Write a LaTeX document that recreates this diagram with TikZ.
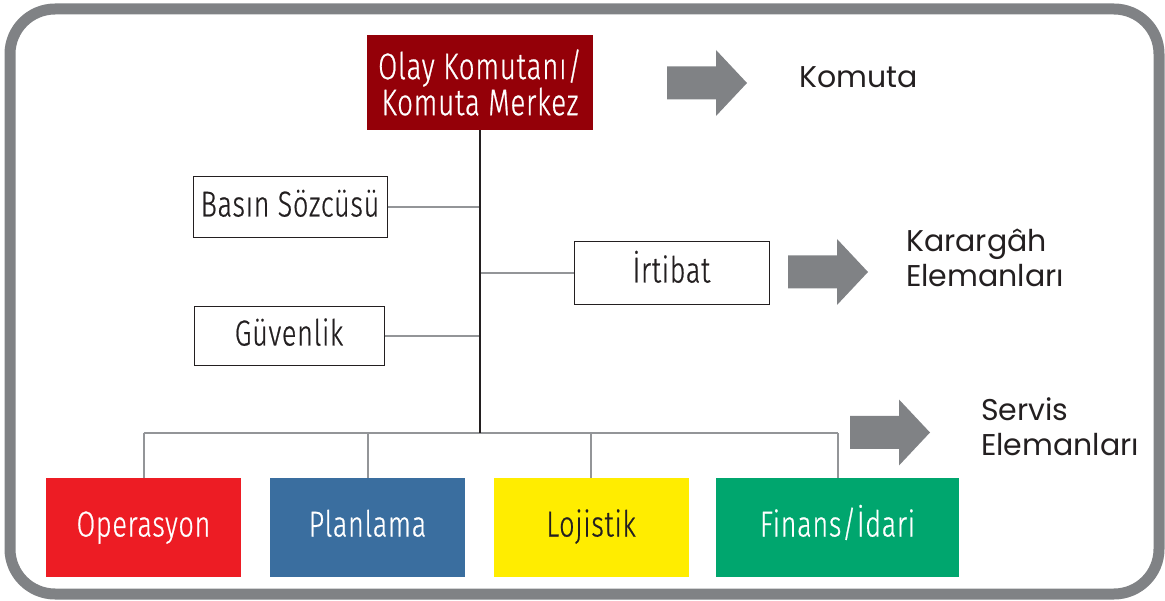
\documentclass[tikz,border=0pt]{standalone}
\usepackage{fontspec}
\setmainfont{Fira Sans Light}[FakeStretch=0.75, LetterSpace=2, FakeBold=0.6]
\newfontfamily\labelfont{Poppins}

\definecolor{olayred}{HTML}{940008}
\definecolor{operred}{HTML}{ED1C24}
\definecolor{planblue}{HTML}{3A6E9F}
\definecolor{lojyellow}{HTML}{FFED00}
\definecolor{finansgreen}{HTML}{00A66E}
\definecolor{framegray}{HTML}{808285}
\definecolor{linegray}{HTML}{939598}
\definecolor{textdark}{HTML}{231F20}

\tikzset{
    unitbox/.style={inner sep=0pt, minimum height=#1, text height=26pt, text depth=8pt,
        font=\fontsize{36}{36}\selectfont, text=textdark},
    whitebox/.style={unitbox=60pt, draw=textdark, line width=1pt, fill=white},
    colorbox/.style={unitbox=99pt, fill=#1, minimum width=195pt, text=white},
    sidelabel/.style={anchor=west, align=left, inner sep=0pt, text=textdark,
        font=\labelfont\fontsize{30}{35}\selectfont},
    trunk/.style={draw=textdark, line width=2pt},
    branch/.style={draw=linegray, line width=2pt},
}

% left end (shaft centre) of a block arrow
\newcommand{\grayarrow}[1]{%
    \fill[framegray] (#1) ++(0,-16.5) -- ++(49,0) -- ++(0,-16.5) -- ++(31,33)
        -- ++(-31,33) -- ++(0,-16.5) -- ++(-49,0) -- cycle;}

\begin{document}
\begin{tikzpicture}[x=1pt, y=-1pt]
    \useasboundingbox (0,0) rectangle (1165,601);
    \draw[framegray, line width=11pt, rounded corners=45pt] (10,9) rectangle (1159,594);

    \node[fill=olayred, minimum width=226pt, minimum height=95pt, inner sep=0pt, text=white,
        align=center, font=\fontsize{37}{35}\selectfont] (olay) at (480,82.5) {Olay Komutanı/\\Komuta Merkez};

    \node[whitebox, minimum width=194pt, minimum height=61pt] (basin) at (290,207.5) {Basın Sözcüsü};
    \node[whitebox, minimum width=190pt, minimum height=59pt] (guvenlik) at (289,336.5) {Güvenlik};
    \node[whitebox, minimum width=195pt, minimum height=63pt] (irtibat) at (671.5,273.5) {İrtibat};

    \node[colorbox=operred] (oper) at (143.5,527.5) {Operasyon};
    \node[colorbox=planblue] (plan) at (367.5,527.5) {Planlama};
    \node[colorbox=lojyellow, text=textdark] (loj) at (591,527.5) {Lojistik};
    \node[colorbox=finansgreen, minimum width=243pt] (finans) at (837.5,527.5) {Finans/İdari};

    \coordinate (bus) at (480,433);

    \draw[branch] (basin.east) -- (basin.east -| bus);
    \draw[branch] (guvenlik.east) -- (guvenlik.east -| bus);
    \draw[branch] (irtibat.west -| bus) -- (irtibat.west);
    \draw[branch] (bus -| oper.north) -- (bus -| finans.north);
    \draw[branch] (bus -| oper.north) -- (oper.north);
    \draw[branch] (bus -| plan.north) -- (plan.north);
    \draw[branch] (bus -| loj.north) -- (loj.north);
    \draw[branch] (bus -| finans.north) -- (finans.north);
    \draw[trunk] (olay.south) -- (bus);

    \grayarrow{667,83}
    \grayarrow{788,272}
    \grayarrow{850,432.5}

    \node[sidelabel] (komuta) at (799,77) {Komuta};
    \node[sidelabel] (karargah) at (906,258) {Karargâh\\Elemanları};
    \node[sidelabel] (servis) at (981,427) {Servis\\Elemanları};
\end{tikzpicture}
\end{document}
